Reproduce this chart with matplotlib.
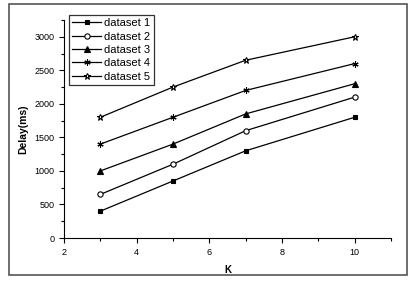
import matplotlib
matplotlib.use("Agg")
import matplotlib.pyplot as plt
from matplotlib.patches import Rectangle
from matplotlib.ticker import MultipleLocator

plt.rcParams['font.family'] = ['Liberation Sans', 'DejaVu Sans']

k = [3, 5, 7, 10]
dataset1 = [400, 850, 1300, 1800]
dataset2 = [650, 1100, 1600, 2100]
dataset3 = [1000, 1400, 1850, 2300]
dataset4 = [1400, 1800, 2200, 2600]
dataset5 = [1800, 2250, 2650, 3000]
labels = ["dataset 1", "dataset 2", "dataset 3", "dataset 4", "dataset 5"]

fig = plt.figure(figsize=(4.18, 2.82), dpi=100)
# gray frame around the whole picture
fig.patches.append(Rectangle((9 / 418, 1 - 275 / 282), 398 / 418, 271 / 282,
                             transform=fig.transFigure, fill=False,
                             edgecolor="#555555", linewidth=1.2))

ax = fig.add_axes([64 / 418, 1 - 238 / 282, 327 / 418, 218 / 282])

styles = [
    dict(marker="s", markerfacecolor="black", markersize=3.3),
    dict(marker="o", markerfacecolor="white", markersize=3.8),
    dict(marker="^", markerfacecolor="black", markersize=4.0),
    dict(marker=(6, 2, 0), markerfacecolor="black", markersize=4.5),
    dict(marker="*", markerfacecolor="white", markersize=5.0),
]
for ys, lab, st in zip([dataset1, dataset2, dataset3, dataset4, dataset5], labels, styles):
    ax.plot(k, ys, color="black", linewidth=0.9,
            markeredgecolor="black", markeredgewidth=0.8, label=lab, **st)

ax.set_xlim(2, 11)
ax.set_ylim(0, 3250)
ax.xaxis.set_major_locator(MultipleLocator(2))
ax.xaxis.set_minor_locator(MultipleLocator(1))
ax.yaxis.set_major_locator(MultipleLocator(500))
ax.yaxis.set_minor_locator(MultipleLocator(250))
ax.spines["top"].set_visible(False)
ax.spines["right"].set_visible(False)
ax.tick_params(which="both", direction="out", labelsize=6.5, width=0.8)
ax.tick_params(which="major", length=3.5)
ax.tick_params(which="minor", length=2)

ax.set_xlabel("K", fontsize=7, fontweight="bold", labelpad=6)
ax.set_ylabel("Delay(ms)", fontsize=7.5, fontweight="bold")

leg = ax.legend(loc="upper left", bbox_to_anchor=(0.015, 1.023), fontsize=8,
                frameon=True, fancybox=False, edgecolor="black",
                handlelength=2.6, borderpad=0.3, labelspacing=0.3,
                handletextpad=0.3, borderaxespad=0.0)
leg.get_frame().set_linewidth(0.9)

fig.savefig("out.png", dpi=100)
